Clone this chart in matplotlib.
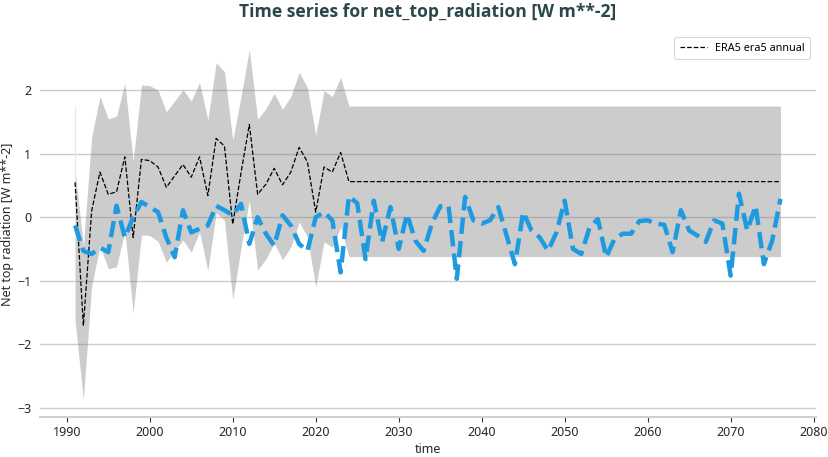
import numpy as np
import matplotlib
matplotlib.use("Agg")
import matplotlib.pyplot as plt

plt.rcParams['font.family'] = ['Noto Sans', 'DejaVu Sans']

# ---- data -------------------------------------------------------------
years = list(range(1991, 2077))

era5 = [0.55, -1.71, 0.10, 0.71, 0.36, 0.40, 0.95, -0.32, 0.91, 0.89,
        0.79, 0.47, 0.65, 0.83, 0.63, 0.95, 0.34, 1.24, 1.12, -0.11,
        0.70, 1.46, 0.36, 0.52, 0.77, 0.51, 0.71, 1.10, 0.87, 0.08,
        0.79, 0.71, 1.02, 0.56,
        0.56, 0.56, 0.56, 0.56, 0.56, 0.56, 0.56, 0.56, 0.56, 0.56,
        0.56, 0.56, 0.56, 0.56, 0.56, 0.56, 0.56, 0.56, 0.56, 0.56,
        0.56, 0.56, 0.56, 0.56, 0.56, 0.56, 0.56, 0.56, 0.56, 0.56,
        0.56, 0.56, 0.56, 0.56, 0.56, 0.56, 0.56, 0.56, 0.56, 0.56,
        0.56, 0.56, 0.56, 0.56, 0.56, 0.56, 0.56, 0.56, 0.56, 0.56,
        0.56, 0.56]

band_upper = [0.74, -0.45, 1.26, 1.90, 1.55, 1.59, 2.11, 0.88, 2.08, 2.07,
              2.00, 1.66, 1.83, 2.01, 1.83, 2.12, 1.53, 2.43, 2.29, 1.21,
              1.90, 2.64, 1.54, 1.71, 1.95, 1.70, 1.90, 2.28, 2.04, 1.29,
              1.99, 1.90, 2.20, 1.75,
              1.75, 1.75, 1.75, 1.75, 1.75, 1.75, 1.75, 1.75, 1.75, 1.75,
              1.75, 1.75, 1.75, 1.75, 1.75, 1.75, 1.75, 1.75, 1.75, 1.75,
              1.75, 1.75, 1.75, 1.75, 1.75, 1.75, 1.75, 1.75, 1.75, 1.75,
              1.75, 1.75, 1.75, 1.75, 1.75, 1.75, 1.75, 1.75, 1.75, 1.75,
              1.75, 1.75, 1.75, 1.75, 1.75, 1.75, 1.75, 1.75, 1.75, 1.75,
              1.75, 1.75]

band_lower = [-1.63, -2.87, -1.08, -0.45, -0.81, -0.78, -0.22, -1.50, -0.28, -0.29,
              -0.38, -0.71, -0.53, -0.36, -0.55, -0.23, -0.84, 0.07, -0.05, -1.30,
              -0.48, 0.27, -0.83, -0.66, -0.41, -0.67, -0.47, -0.08, -0.31, -1.10,
              -0.39, -0.47, -0.16, -0.62,
              -0.62, -0.62, -0.62, -0.62, -0.62, -0.62, -0.62, -0.62, -0.62, -0.62,
              -0.62, -0.62, -0.62, -0.62, -0.62, -0.62, -0.62, -0.62, -0.62, -0.62,
              -0.62, -0.62, -0.62, -0.62, -0.62, -0.62, -0.62, -0.62, -0.62, -0.62,
              -0.62, -0.62, -0.62, -0.62, -0.62, -0.62, -0.62, -0.62, -0.62, -0.62,
              -0.62, -0.62, -0.62, -0.62, -0.62, -0.62, -0.62, -0.62, -0.62, -0.62,
              -0.62, -0.62]

# faint first-year spread marker (1991)
first_year_top = 1.74

model = [-0.13, -0.53, -0.58, -0.48, -0.55, 0.18, -0.32, 0.00, 0.24, 0.16,
         0.08, -0.32, -0.63, 0.11, -0.24, -0.18, -0.13, 0.18, 0.11, 0.03,
         0.21, -0.42, 0.00, -0.26, -0.45, 0.03, -0.13, -0.42, -0.53, 0.00,
         0.08, -0.05, -0.87, 0.33, 0.22, -0.66, 0.26, -0.39, 0.16, -0.50,
         0.05, -0.37, -0.53, -0.10, 0.17, 0.18, -0.97, 0.32, -0.05, -0.10,
         -0.05, 0.16, -0.29, -0.74, 0.08, -0.21, -0.32, -0.53, -0.24, 0.26,
         -0.50, -0.58, -0.16, -0.03, -0.63, -0.34, -0.26, -0.26, -0.06, -0.05,
         -0.10, -0.12, -0.55, 0.11, -0.21, -0.29, -0.39, -0.05, -0.10, -0.92,
         0.37, -0.21, 0.18, -0.74, -0.37, 0.29]

x_ticks = [1990, 2000, 2010, 2020, 2030, 2040, 2050, 2060, 2070, 2080]
y_ticks = [-3, -2, -1, 0, 1, 2]

title = "Time series for net_top_radiation [W m**-2]"
era5_label = "ERA5 era5 annual"
xlabel = "time"
ylabel = "Net top radiation [W m**-2]"

# ---- plot -------------------------------------------------------------
fig = plt.figure(figsize=(8.29, 4.57), dpi=100)
ax = fig.add_axes([0.048, 0.0875, 0.936, 0.8425])

ax.set_axisbelow(True)
ax.grid(axis='y', color='#cccccc', linewidth=1.0)
ax.grid(axis='x', visible=False)

ax.fill_between(years, band_lower, band_upper, color='gray', alpha=0.4,
                linewidth=0)
ax.vlines(years[0], band_lower[0], first_year_top, color='#e6e6e6',
          linewidth=0.8, zorder=1.5)
ax.plot(years, era5, color='black', linestyle='--', linewidth=0.9,
        label=era5_label)
ax.plot(years, model, color='#1e9be0', linestyle='--', linewidth=3.2)

ax.set_xticks(x_ticks)
ax.set_yticks(y_ticks)
ax.tick_params(axis='x', length=3.5, width=0.8, color='#333333',
               labelsize=9, labelcolor='#262626', pad=3)
ax.tick_params(axis='y', length=0, labelsize=9, labelcolor='#262626', pad=6)

for s in ['top', 'right', 'left']:
    ax.spines[s].set_visible(False)
ax.spines['bottom'].set_color('#d0d0d0')
ax.spines['bottom'].set_linewidth(1.5)

ax.set_xlabel(xlabel, fontsize=9, color='#262626', labelpad=3)
ax.set_ylabel(ylabel, fontsize=9, color='#262626')
ax.yaxis.set_label_coords(-0.033, 0.5)
ax.set_title(title, fontsize=12.6, fontweight='bold', color='#2b4848', pad=11,
             family=['Open Sans', 'DejaVu Sans'])

leg = ax.legend(loc='upper right', fontsize=7.8, frameon=True,
                fancybox=True, handlelength=2.5, borderpad=0.5)
leg.get_frame().set_edgecolor('#d0d0d0')
leg.get_frame().set_linewidth(0.8)

fig.savefig("out.png", dpi=100, facecolor='white')
